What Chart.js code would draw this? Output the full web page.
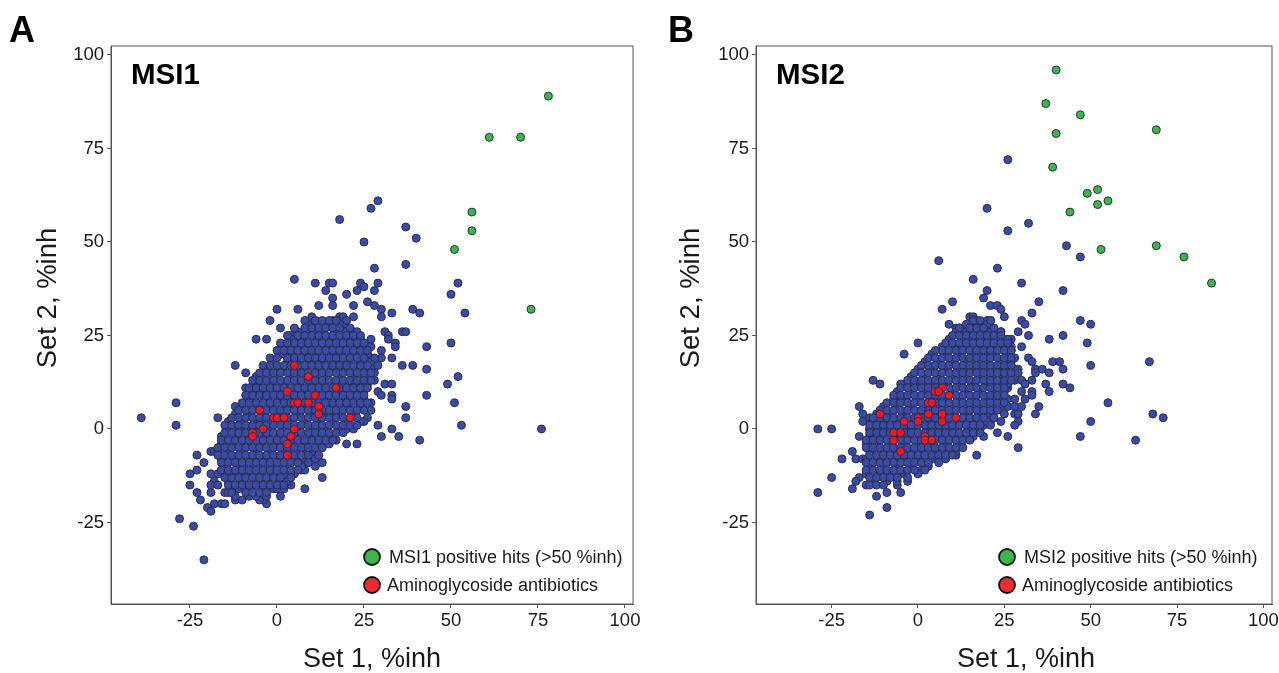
<!DOCTYPE html>
<html>
<head>
<meta charset="utf-8">
<title>MSI1 / MSI2 scatter</title>
<script src="https://cdn.jsdelivr.net/npm/chart.js@4"></script>
<style>
  html, body { margin: 0; padding: 0; background: #fff; overflow: hidden; }
  canvas { position: absolute; top: 0; filter: blur(0.3px); }
  #panelA { left: 0; }
  #panelB { left: 640px; }
</style>
</head>
<body>
<canvas id="panelA" width="650" height="673"></canvas>
<canvas id="panelB" width="639" height="673"></canvas>
<script>
const tickValuesX = [-25, 0, 25, 50, 75, 100];
const tickValuesY = [-25, 0, 25, 50, 75, 100];
const axisTitleX = 'Set 1, %inh';
const axisTitleY = 'Set 2, %inh';
const labelAmino = 'Aminoglycoside antibiotics';

/* ---- MSI1 ---- */
const msi1Hits = [[78,89],[61,78],[70,78],[56,58],[56,53],[51,48],[73,32]];
const msi1Amino = [[5,17],[9,14],[3,10],[17,11],[11,9],[5,7],[6,7],[9,7],[12,6],[-5,5],[12,4],[-1,3],[0,3],[2,3],[21,3],
  [5,0],[-4,0],[-7,-1],[-7,-2],[4,-2],[3,-4],[3,-7]];
const msi1Outliers = [[29,61],[27,59],[18,56],[37,54],[40,51],[25,50],[37,44],[28,43],[5,40],[11,39],[15,39],[16,39],[24,39],[29,39],
  [52,39],[25,38],[14,37],[23,37],[28,37],[50,36],[20,36],[16,35],[26,34],[12,33],[16,33],[22,33],[28,33],[0,32],[6,32],[30,32],
  [39,32],[41,31],[33,31],[54,31],[10,30],[18,30],[19,30],[22,30],[30,30],[-2,29],[11,29],[16,29],[1,27],[18,27],[9,26],[22,26],
  [31,26],[36,26],[37,26],[32,25],[4,25],[-6,24],[-3,24],[27,24],[32,24],[34,23],[50,23],[34,22],[43,22],[27,22],[30,21],[33,19],
  [30,19],[27,19],[36,17],[39,17],[29,17],[-12,17],[43,16],[27,16],[28,15],[-9,15],[-6,14],[52,14],[26,13],[28,13],[31,12],[33,12],
  [49,12],[-9,11],[29,10],[33,9],[30,9],[43,9],[33,8],[27,7],[51,7],[37,6],[-12,6],[27,5],[37,3],[26,3],[-17,3],[25,2],[53,1],
  [29,1],[33,0],[76,0],[20,0],[30,-2],[35,-2],[41,-3],[17,-3],[20,-4],[23,-4],[13,-9],[11,-10],[7,-11],[8,-11],[13,-13],[8,-16],
  [-29,7],[-39,3],[-29,1],[-23,-7],[-19,-6],[-18,-6],[-21,-9],[-23,-11],[-25,-12],[-19,-12],[-17,-12],[-18,-14],[-25,-15],[-19,-15],
  [-17,-15],[-23,-17],[-19,-17],[-15,-17],[-14,-17],[-22,-19],[-20,-21],[-19,-22],[-18,-20],[-16,-20],[-15,-20],[-12,-19],[-10,-19],
  [-3,-20],[-4,-19],[-5,-19],[1,-18],[-1,-16],[2,-16],[4,-15],[3,-14],[-28,-24],[-24,-26],[-21,-35]];
const msi1CloudY = [29,27,25,23,21,19,17,15,13,11,9,7,5,3,1,-1,-3,-5,-7,-9,-11,-13,-15,-17];
const msi1CloudX = [
  [8,11,13,15,17,20],
  [5,8,10,12,14,16,18,21],
  [3,6,8,10,12,14,16,18,20,22,24],
  [1,3,5,7,9,11,13,15,17,19,21,23,25],
  [0,2,4,6,8,10,12,14,16,18,20,22,24,26],
  [-2,0,3,5,7,9,11,13,15,17,19,21,23,25,28],
  [-4,-2,0,2,4,6,8,10,12,14,16,18,20,22,24,26],
  [-5,-3,-1,1,3,5,7,9,11,13,15,17,19,21,23,25,27],
  [-7,-5,-3,-1,1,3,5,7,9,11,13,15,17,19,21,23,25,27],
  [-8,-6,-4,-2,0,2,4,6,8,10,12,14,16,18,20,22,24,26],
  [-9,-7,-5,-3,-1,1,3,5,7,9,11,13,15,17,19,21,23,25],
  [-10,-8,-6,-4,-2,0,2,4,6,8,10,12,14,16,18,20,22,24,26],
  [-11,-9,-7,-5,-3,-1,1,3,5,7,9,11,13,15,17,19,21,23,25],
  [-13,-11,-9,-7,-5,-3,-1,1,3,5,7,9,11,13,15,17,19,21,23],
  [-15,-13,-11,-9,-7,-5,-3,-1,1,3,5,7,9,11,13,15,17,19,21,23],
  [-15,-13,-11,-9,-7,-5,-3,-1,1,3,5,7,9,11,13,15,17,19],
  [-16,-14,-12,-10,-8,-6,-4,-2,0,2,4,6,8,10,12,14,16],
  [-17,-15,-13,-11,-9,-7,-5,-3,-1,1,3,5,7,9,11,13],
  [-17,-15,-13,-11,-9,-7,-5,-3,-1,1,3,5,7,9,12],
  [-16,-14,-12,-10,-8,-6,-4,-2,0,2,4,6,9],
  [-16,-14,-12,-10,-8,-6,-4,-2,0,2,4,6],
  [-15,-13,-11,-9,-7,-5,-3,-1,1,4],
  [-14,-12,-10,-8,-6,-4,-2,0,2],
  [-13,-9,-7,-5,-3]
];
const msi1FillY = [28,26,24,22,20,18,16,14,12,10,8,6,4,2,0,-2,-4,-6,-8,-10,-12,-14,-16,-18];
const msi1FillX = [
  [9,14,19],
  [6,11,13,17,20,23],
  [4,7,12,15,18,21,24],
  [2,6,9,14,16,19,23,25],
  [1,4,8,11,15,18,22,26],
  [-1,3,6,10,13,17,20,24,27],
  [-3,1,5,8,12,16,19,23,26],
  [-4,-1,4,7,11,14,18,22,25],
  [-6,-2,2,6,10,13,17,21,24,26],
  [-7,-4,0,5,8,12,15,19,23,25],
  [-8,-3,1,4,9,14,18,21,25],
  [-10,-6,-2,3,7,11,16,20,24],
  [-12,-8,-4,0,6,10,13,17,22],
  [-14,-10,-5,-1,4,8,12,16,20,24],
  [-14,-11,-7,-2,2,6,11,14,18,22],
  [-16,-12,-8,-3,1,5,10,13,16],
  [-16,-13,-9,-5,0,4,8,12,15],
  [-17,-14,-10,-6,-2,3,7,10],
  [-16,-12,-7,-3,1,5,8,11],
  [-15,-11,-8,-4,0,3,7],
  [-15,-12,-9,-5,-1,2,5],
  [-14,-10,-6,-3,1,3],
  [-13,-11,-8,-4,0],
  [-12,-8,-6,-3]
];

/* ---- MSI2 ---- */
const msi2Hits = [[40,96],[37,87],[47,84],[40,79],[69,80],[39,70],[49,63],[52,64],[55,61],[52,60],[44,58],[53,48],[69,49],[77,46],[85,39]];
const msi2Amino = [[7,11],[5,10],[6,10],[9,9],[3,7],[4,7],[-11,4],[3,4],[7,4],[-4,2],[0,3],[0,2],[7,2],[11,3],[-7,-1],[-5,-1],[-7,-3],
  [2,-2],[2,-3],[4,-3],[-5,-6]];
const msi2Outliers = [[26,72],[20,59],[32,55],[26,53],[43,49],[47,46],[6,45],[23,43],[16,40],[30,39],[20,37],[42,37],[19,35],[10,34],
  [35,34],[21,33],[23,33],[24,32],[7,32],[33,31],[25,30],[15,30],[16,30],[17,29],[20,29],[21,29],[30,29],[47,29],[9,28],[18,28],
  [31,28],[50,28],[11,27],[12,27],[12,26],[16,26],[19,26],[24,26],[29,26],[15,25],[21,25],[32,25],[42,25],[38,24],[25,24],[27,24],
  [49,23],[30,22],[27,21],[-4,20],[0,23],[32,19],[28,19],[33,18],[39,18],[41,18],[67,18],[26,18],[50,17],[29,16],[34,16],[36,16],
  [42,16],[34,15],[38,15],[26,15],[28,13],[30,13],[33,13],[-13,13],[31,12],[37,12],[42,12],[-11,12],[26,11],[44,11],[30,10],[33,10],
  [38,10],[24,9],[33,9],[26,8],[28,8],[31,8],[55,7],[24,6],[26,6],[28,6],[30,6],[35,6],[-17,6],[25,4],[28,4],[29,4],[34,4],[68,4],
  [-16,4],[-14,3],[21,3],[71,3],[21,2],[24,2],[29,2],[50,2],[-16,2],[19,1],[28,1],[-29,0],[-25,0],[-14,0],[23,-1],[16,-2],[19,-2],
  [26,-2],[47,-2],[-17,-2],[63,-3],[29,-5],[-19,-6],[11,-7],[17,-7],[-22,-8],[-18,-8],[-16,-8],[3,-10],[1,-11],[-25,-13],[-17,-13],
  [-18,-14],[-6,-15],[-15,-15],[-19,-16],[-29,-17],[-9,-17],[-5,-17],[-12,-18],[-9,-21],[-14,-23]];
const msi2CloudY = [29,27,25,23,21,19,17,15,13,11,9,7,5,3,1,-1,-3,-5,-7,-9,-11,-13,-15];
const msi2CloudX = [
  [16,18,21],
  [12,15,17,19,22],
  [10,12,14,16,18,20,22,24],
  [8,10,12,14,16,18,20,22,24,26],
  [5,7,9,11,13,15,17,19,21,23,25,27],
  [3,5,7,9,11,13,15,17,19,21,23,25,27],
  [1,3,5,7,9,11,13,15,17,19,21,23,25,27],
  [-1,1,3,5,7,9,11,13,15,17,19,21,23,25,27,29],
  [-3,-1,1,3,5,7,9,11,13,15,17,19,21,23,25,27],
  [-5,-3,-1,1,3,5,7,9,11,13,15,17,19,21,23,25],
  [-7,-5,-3,-1,1,3,5,7,9,11,13,15,17,19,21,23,25],
  [-9,-7,-5,-3,-1,1,3,5,7,9,11,13,15,17,19,21,23,25],
  [-11,-9,-7,-5,-3,-1,1,3,5,7,9,11,13,15,17,19,21,23],
  [-13,-11,-9,-7,-5,-3,-1,1,3,5,7,9,11,13,15,17,19,22],
  [-14,-12,-10,-8,-6,-4,-2,0,2,4,6,8,10,12,14,16,18,21],
  [-14,-12,-10,-8,-6,-4,-2,0,2,4,6,8,10,12,14,16,18],
  [-15,-13,-11,-9,-7,-5,-3,-1,1,3,5,7,9,11,13,15],
  [-15,-13,-11,-9,-7,-5,-3,-1,1,3,5,7,9,11,13],
  [-14,-12,-10,-8,-6,-4,-2,0,2,4,6,8,10],
  [-15,-13,-11,-9,-7,-5,-3,-1,1,3,6],
  [-15,-13,-11,-9,-7,-5,-3,-1,2],
  [-14,-12,-10,-8,-6,-3],
  [-14,-12,-10]
];
const msi2FillY = [28,26,24,22,20,18,16,14,12,10,8,6,4,2,0,-2,-4,-6,-8,-10,-12,-14];
const msi2FillX = [
  [14,17,20],
  [11,14,18,21,24],
  [9,13,16,20,23,26],
  [7,11,14,18,21,25,27],
  [4,8,12,16,19,22,26],
  [2,6,10,14,17,20,24,27],
  [0,4,8,12,15,19,22,25,28],
  [-2,2,6,10,13,18,21,24,28],
  [-5,-1,3,7,12,16,20,23,26],
  [-6,-2,2,6,10,14,18,22,25],
  [-7,-4,0,5,8,12,16,20,23],
  [-10,-6,-2,3,7,11,15,19,22],
  [-12,-8,-4,1,5,9,14,18,21],
  [-13,-10,-6,-1,4,8,12,16,20],
  [-14,-10,-7,-2,3,6,10,15,18],
  [-14,-11,-6,-3,2,6,11,14],
  [-15,-12,-8,-4,0,4,8,12],
  [-14,-10,-6,-2,1,5,9,11],
  [-15,-11,-7,-4,0,4,8],
  [-14,-10,-6,-2,2],
  [-15,-11,-8,-4,0],
  [-13,-9,-6,-3]
];

const Colors = {
  blue: '#3a4ba6',
  green: '#3cb54a',
  red: '#f4151f',
  dot: '#2b2d4d',
  axis: '#555555',
  text: '#1a1a1a'
};
const FONT = '"Liberation Sans", Arial, sans-serif';

const pairs = list => list.map(p => ({ x: p[0], y: p[1] }));

function rowPoints(rowsY, rowsX) {
  const pts = [];
  rowsY.forEach((y, i) => rowsX[i].forEach(x => pts.push({ x, y })));
  return pts;
}

function markerSet(label, data, color, order) {
  return {
    label, data, order,
    backgroundColor: color,
    borderColor: Colors.dot,
    borderWidth: 1,
    pointRadius: 4
  };
}

const panelDecor = {
  id: 'panelDecor',
  afterDraw(chart, args, o) {
    const { ctx, chartArea: a } = chart;
    ctx.save();
    // frame
    ctx.strokeStyle = Colors.axis;
    ctx.lineWidth = 1;
    ctx.strokeRect(a.left, a.top, a.right - a.left, a.bottom - a.top);

    // panel letter and title
    ctx.fillStyle = '#000';
    ctx.textBaseline = 'alphabetic';
    ctx.font = '700 36px ' + FONT;
    ctx.fillText(o.letter, o.letterX, 42);
    ctx.font = '700 29.5px ' + FONT;
    ctx.fillText(o.title, a.left + 20, 84);

    // axis titles are not centred on the plot in the reference
    ctx.fillStyle = Colors.text;
    ctx.textAlign = 'center';
    ctx.textBaseline = 'middle';
    ctx.font = '27px ' + FONT;
    ctx.fillText(axisTitleX, o.xTitleX, 660);
    ctx.save();
    ctx.translate(o.yTitleX, 298);
    ctx.rotate(-Math.PI / 2);
    ctx.font = '27.5px ' + FONT;
    ctx.fillText(axisTitleY, 0, 0);
    ctx.restore();
    ctx.textAlign = 'left';

    // legend
    [[o.hitLabel, Colors.green, 557, 17], [labelAmino, '#ef2b33', 585, 15]].forEach(row => {
      ctx.beginPath();
      ctx.arc(o.legendX, row[2], 8, 0, Math.PI * 2);
      ctx.fillStyle = row[1];
      ctx.fill();
      ctx.lineWidth = 1.8;
      ctx.strokeStyle = '#111';
      ctx.stroke();
      ctx.fillStyle = Colors.text;
      ctx.font = '18px ' + FONT;
      ctx.fillText(row[0], o.legendX + row[3], row[2] + 1);
    });
    ctx.restore();
  }
};

function renderPanel(id, cfg) {
  const axisBase = {
    type: 'linear',
    grid: { drawOnChartArea: false, tickLength: 4, color: Colors.axis, tickWidth: 1 },
    border: { color: Colors.axis }
  };
  new Chart(document.getElementById(id), {
    type: 'scatter',
    data: {
      datasets: [
        markerSet(cfg.hitLabel, pairs(cfg.hits), Colors.green, 1),
        markerSet(labelAmino, pairs(cfg.amino), Colors.red, 0),
        markerSet('Library', cfg.cloud, Colors.blue, 2)
      ]
    },
    options: {
      responsive: false,
      animation: false,
      devicePixelRatio: 1,
      layout: { padding: { top: 46, right: cfg.padRight, bottom: 0, left: 0 } },
      plugins: {
        legend: { display: false },
        tooltip: { enabled: false },
        panelDecor: cfg
      },
      scales: {
        x: {
          ...axisBase,
          min: cfg.xMin, max: cfg.xMax,
          afterBuildTicks: s => { s.ticks = tickValuesX.map(value => ({ value })); },
          afterFit: s => { s.height = 69; s.paddingLeft = 0; s.paddingRight = 0; },
          ticks: { color: Colors.text, font: { size: 18.5, family: FONT }, padding: 2, maxRotation: 0, autoSkip: false }
        },
        y: {
          ...axisBase,
          min: -46.8, max: 102.4,
          afterBuildTicks: s => { s.ticks = tickValuesY.map(value => ({ value })); },
          afterFit: s => { s.width = cfg.plotLeft; s.paddingTop = 0; s.paddingBottom = 0; },
          ticks: { color: Colors.text, font: { size: 18.5, family: FONT }, padding: 3, autoSkip: false }
        }
      }
    },
    plugins: [panelDecor]
  });
}

renderPanel('panelA', {
  letter: 'A', letterX: 9, title: 'MSI1', xTitleX: 372, yTitleX: 48,
  hitLabel: 'MSI1 positive hits (>50 %inh)', legendX: 372,
  hits: msi1Hits, amino: msi1Amino,
  cloud: pairs(msi1Outliers).concat(rowPoints(msi1FillY, msi1FillX), rowPoints(msi1CloudY, msi1CloudX)),
  plotLeft: 111, padRight: 17, xMin: -47.7, xMax: 102.3
});

renderPanel('panelB', {
  letter: 'B', letterX: 28, title: 'MSI2', xTitleX: 386, yTitleX: 51,
  hitLabel: 'MSI2 positive hits (>50 %inh)', legendX: 367,
  hits: msi2Hits, amino: msi2Amino,
  cloud: pairs(msi2Outliers).concat(rowPoints(msi2FillY, msi2FillX), rowPoints(msi2CloudY, msi2CloudX)),
  plotLeft: 116, padRight: 7, xMin: -46.9, xMax: 102.5
});
</script>
</body>
</html>
